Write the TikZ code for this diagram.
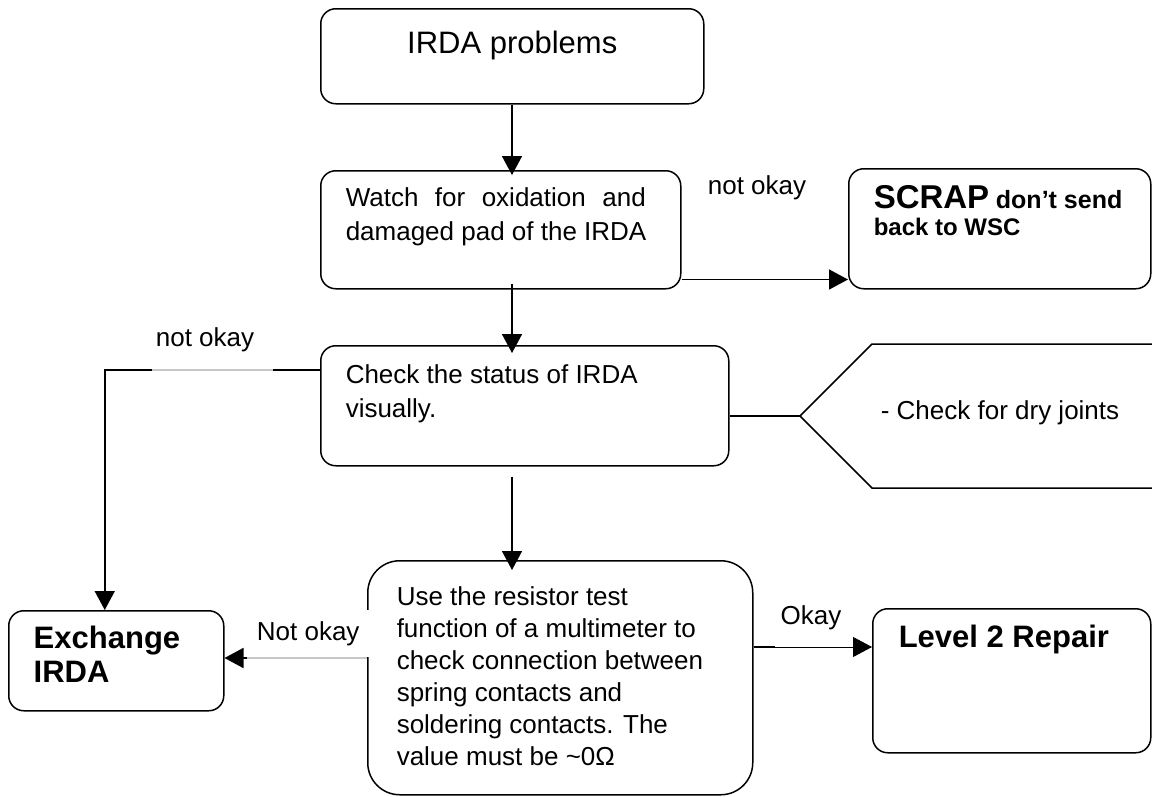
\documentclass[tikz,border=0pt]{standalone}
\usepackage{fontspec}
\setmainfont{Liberation Sans}
\usetikzlibrary{arrows.meta,calc}
\newcommand{\tbx}[4]{\parbox[c][#1][t]{#2}{\vspace*{#3}#4}}
\begin{document}
\begin{tikzpicture}[x=1pt,y=-1pt,
  box/.style={draw=black, line width=1.5pt, rounded corners=15pt, anchor=north west, inner ysep=0pt, fill=white},
  conn/.style={line width=1.6pt},
  arr/.style={conn, -{Triangle[length=19pt,width=20pt]}},
  faint/.style={line width=1.6pt, draw=black!22},
  lbl/.style={font=\fontsize{26}{30}\selectfont, inner sep=0pt}]
\fill[white] (0,0) rectangle (1152,796);
\useasboundingbox (0,0) rectangle (1152,796);

% boxes
\node[box, inner xsep=10pt] (top) at (320,8)
  {\tbx{95pt}{363pt}{21.2pt}{\centering\fontsize{31}{34}\selectfont\strut IRDA problems}};
\node[box, inner xsep=25pt] (watch) at (320,170)
  {\tbx{118pt}{310pt}{12.2pt}{\fontsize{26}{34}\selectfont\raggedright\strut\hbox to 300pt{Watch\hfil\ for\hfil\ oxidation\hfil\ and}\\damaged pad of the IRDA}};
\node[box, inner xsep=25pt] (scrap) at (848,168)
  {\tbx{120pt}{252pt}{15pt}{\fontsize{24}{27}\selectfont\bfseries\raggedright\rule{0pt}{25pt}{\fontsize{33}{27}\selectfont SCRAP} {\fontsize{25}{27}\selectfont don’t send}\\back to WSC}};
\node[box, inner xsep=25pt] (check) at (320,345)
  {\tbx{120pt}{358pt}{14.2pt}{\fontsize{26}{34}\selectfont\raggedright\strut Check the status of IRDA\\visually.}};
\node[box, inner xsep=25pt] (exch) at (8,610)
  {\tbx{100pt}{165pt}{14.2pt}{\fontsize{31}{34}\selectfont\bfseries\raggedright\strut Exchange\\IRDA}};
\node[box, rounded corners=32pt, inner xsep=29pt] (res) at (367,560)
  {\tbx{234pt}{327pt}{22.6pt}{\fontsize{26}{32}\selectfont\raggedright\strut Use the resistor test\\function of a multimeter to\\check connection between\\spring contacts and\\soldering contacts. The\\value must be \textasciitilde0Ω}};
\node[box, inner xsep=26pt] (lvl) at (872,608)
  {\tbx{144pt}{226pt}{15.2pt}{\fontsize{31}{34}\selectfont\bfseries\raggedright\strut Level 2 Repair}};

% coordinates
\coordinate (cx) at (512,0);
\coordinate (ga) at (273,370);
\coordinate (gb) at (152,370);
\coordinate (ny) at (247,658);
\coordinate (oy) at (775,647);
\coordinate (tip) at (800,416);
\coordinate (cu) at (872,344);
\coordinate (cl) at (872,488);
\coordinate (cue) at (1152,344);
\coordinate (cle) at (1152,488);

% connectors
\draw[arr] (top.south -| cx) -- ($(watch.north -| cx)+(0,5)$);
\draw[arr] ($(watch.south -| cx)+(0,-6)$) -- ($(check.north -| cx)+(0,8)$);
\draw[arr] ($(check.south -| cx)+(0,10)$) -- ($(res.north -| cx)+(0,10)$);
\draw[arr] ($(watch.south east)+(0,-10)$) -- ($(scrap.south west)+(0,-10)$);

\draw[conn] (check.west |- ga) -- (ga);
\draw[faint] (ga) -- (gb);
\draw[arr] (gb) -| ($(exch.north)+(-11.5,0)$);

\draw[faint] (res.west |- ny) -- (ny);
\draw[arr] (ny) -- (exch.east |- ny);

\draw[conn] (res.east |- oy) -- (oy);
\draw[line width=0.9pt, -{Triangle[length=19pt,width=20pt]}] (oy) -- (lvl.west |- oy);

% callout
\draw[line width=1.5pt] (check.east |- tip) -- (tip);
\draw[line width=1.5pt] (cue) -- (cu) -- (tip) -- (cl) -- (cle);
\node[lbl] (dry) at (1000,413) {- Check for dry joints};

% labels
\node[lbl] (l1) at (757,188) {not okay};
\node[lbl] (l2) at (205,340) {not okay};
\node[lbl, fill=white, minimum width=122pt, minimum height=47pt, anchor=south west] (l3) at (247,657) {\raisebox{5pt}{Not okay}};
\node[lbl] (l4) at (811,618) {Okay};
\end{tikzpicture}
\end{document}
